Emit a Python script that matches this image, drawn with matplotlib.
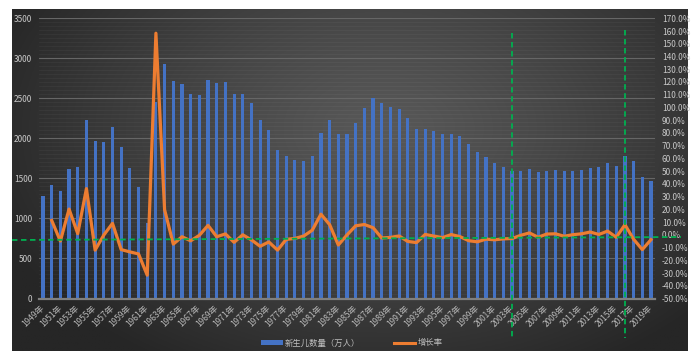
import numpy as np
import matplotlib
matplotlib.use('Agg')
import matplotlib.pyplot as plt
from matplotlib.lines import Line2D
from matplotlib.patches import Patch
import matplotlib.transforms as mtransforms

plt.rcParams['font.family'] = ['Noto Sans CJK SC', 'DejaVu Sans']

# ---- data ----
years = list(range(1949, 2020))
births = [1275, 1419, 1349, 1622, 1637, 2232, 1965, 1961, 2138, 1889,
          1635, 1389, 949, 2451, 2934, 2721, 2679, 2554, 2543, 2731,
          2690, 2710, 2551, 2550, 2447, 2226, 2102, 1849, 1783, 1733,
          1715, 1776, 2064, 2230, 2052, 2050, 2196, 2374, 2508, 2445,
          2396, 2370, 2250, 2113, 2120, 2098, 2052, 2057, 2028, 1934,
          1827, 1765, 1696, 1641, 1594, 1588, 1612, 1581, 1591, 1604,
          1587, 1588, 1600, 1635, 1640, 1687, 1655, 1786, 1723, 1523,
          1465]
# growth rate (%) from 1950 onward
growth = [11.3, -4.9, 20.2, 0.9, 36.3, -12.0, -0.2, 9.0, -11.6, -13.4,
          -15.0, -31.7, 158.3, 19.7, -7.3, -1.5, -4.7, -0.4, 7.4, -1.5,
          0.7, -5.9, 0.0, -4.0, -9.0, -5.6, -12.0, -3.6, -2.8, -1.0,
          3.6, 16.2, 8.0, -8.0, -0.1, 7.1, 8.1, 5.6, -2.5, -2.0,
          -0.9, -5.2, -6.1, 0.3, -1.0, -2.2, 0.2, -1.4, -4.6, -5.5,
          -3.4, -3.9, -3.2, -2.9, -0.4, 1.5, -1.9, 0.6, 0.8, -1.1,
          0.1, 0.8, 2.2, 0.3, 2.9, -1.9, 7.9, -3.5, -11.6, -3.8]
tick_years = years[::2]
tick_labels = [f"{y}年" for y in tick_years]
left_ticks = list(range(0, 3501, 500))
right_ticks = list(range(-50, 171, 10))
marked_years = [2003, 2016]
bar_label = "新生儿数量（万人）"
line_label = "增长率"

W, H = 697, 361
fig = plt.figure(figsize=(W / 100, H / 100), dpi=100)
fig.patch.set_facecolor('white')

# ---- dark gradient background ----
bg = fig.add_axes([12 / W, 1 - 351 / H, 676 / W, 342 / H])
bg.axis('off')
gy, gx = np.mgrid[0:1:200j, 0:1:400j]
d = np.sqrt(((gx - 0.55) / 1.0) ** 2 + ((gy - 0.35) / 1.3) ** 2)
t = np.clip(d / 0.62, 0, 1) ** 1.2
c0 = np.array([0x58, 0x58, 0x58]) / 255
c1 = np.array([0x26, 0x26, 0x26]) / 255
img = c0[None, None, :] + (c1 - c0)[None, None, :] * t[..., None]
bg.imshow(img, extent=[0, 1, 0, 1], aspect='auto', origin='upper')
bg.set_xlim(0, 1)
bg.set_ylim(0, 1)

# ---- main axes ----
ax = fig.add_axes([39 / W, 1 - 298.5 / H, 616 / W, 280.2 / H])
ax.patch.set_alpha(0)
x = np.arange(len(years))
ax.bar(x, births, width=0.36, color='#4472C4', zorder=3)
ax.set_xlim(-0.46, len(years) - 0.54)
ax.set_ylim(0, 3500)
ax.set_yticks(left_ticks)
ax.set_yticks(np.arange(0, 3501, 50), minor=True)
ax.grid(axis='y', which='major', color='#666666', lw=0.8, zorder=0)
ax.grid(axis='y', which='minor', color='#ffffff', alpha=0.045, lw=0.6, zorder=0)
for s in ['top', 'left', 'right']:
    ax.spines[s].set_visible(False)
ax.spines['bottom'].set_color('#7f7f7f')
ax.spines['bottom'].set_linewidth(1.6)
ax.spines['bottom'].set_zorder(4)
ax.tick_params(axis='y', which='both', length=0, labelsize=6, colors='#c8c8c8', pad=5)
ax.set_xticks([years.index(y) for y in tick_years])
ax.set_xticklabels(tick_labels, rotation=45, ha='right', va='center',
                   rotation_mode='anchor', fontsize=6, color='#b8b8b8')
ax.tick_params(axis='x', length=0, pad=6)

# ---- growth line ----
ax2 = ax.twinx()
ax2.plot(x[1:], growth, color='#ED7D31', lw=2.3, solid_joinstyle='round', zorder=5)
ax2.set_ylim(-50, 170)
ax2.set_yticks(right_ticks)
ax2.set_yticklabels([f"{v:.1f}%" for v in right_ticks])
ax2.tick_params(axis='y', length=0, labelsize=6, colors='#c8c8c8', pad=5)
for s in ax2.spines.values():
    s.set_visible(False)
ax2.set_xlim(ax.get_xlim())

# ---- green dashed guide lines ----
green = '#00B050'
fig.add_artist(Line2D([12 / W, 681 / W], [1 - 240 / H, 1 - 237 / H], color=green,
                      lw=1.3, ls=(0, (3, 2)), transform=fig.transFigure, zorder=10))
trans = mtransforms.blended_transform_factory(ax.transData, fig.transFigure)
for yr, ytop in zip(marked_years, [33, 30]):
    xi = years.index(yr) + 0.05
    fig.add_artist(Line2D([xi, xi], [1 - ytop / H, 1 - 338 / H], color=green,
                          lw=1.3, ls=(0, (3, 2)), transform=trans, zorder=10))

# ---- legend ----
handles = [Patch(facecolor='#4472C4', edgecolor='none'),
           Line2D([], [], color='#ED7D31', lw=2.2)]
fig.legend(handles, [bar_label, line_label], loc='center',
           bbox_to_anchor=(352 / W, 1 - 343 / H), ncol=2, frameon=False,
           fontsize=6, labelcolor='#c0c0c0', handlelength=2.6, handleheight=0.5,
           columnspacing=4.0, handletextpad=0.3)

fig.savefig('out.png', dpi=100)
